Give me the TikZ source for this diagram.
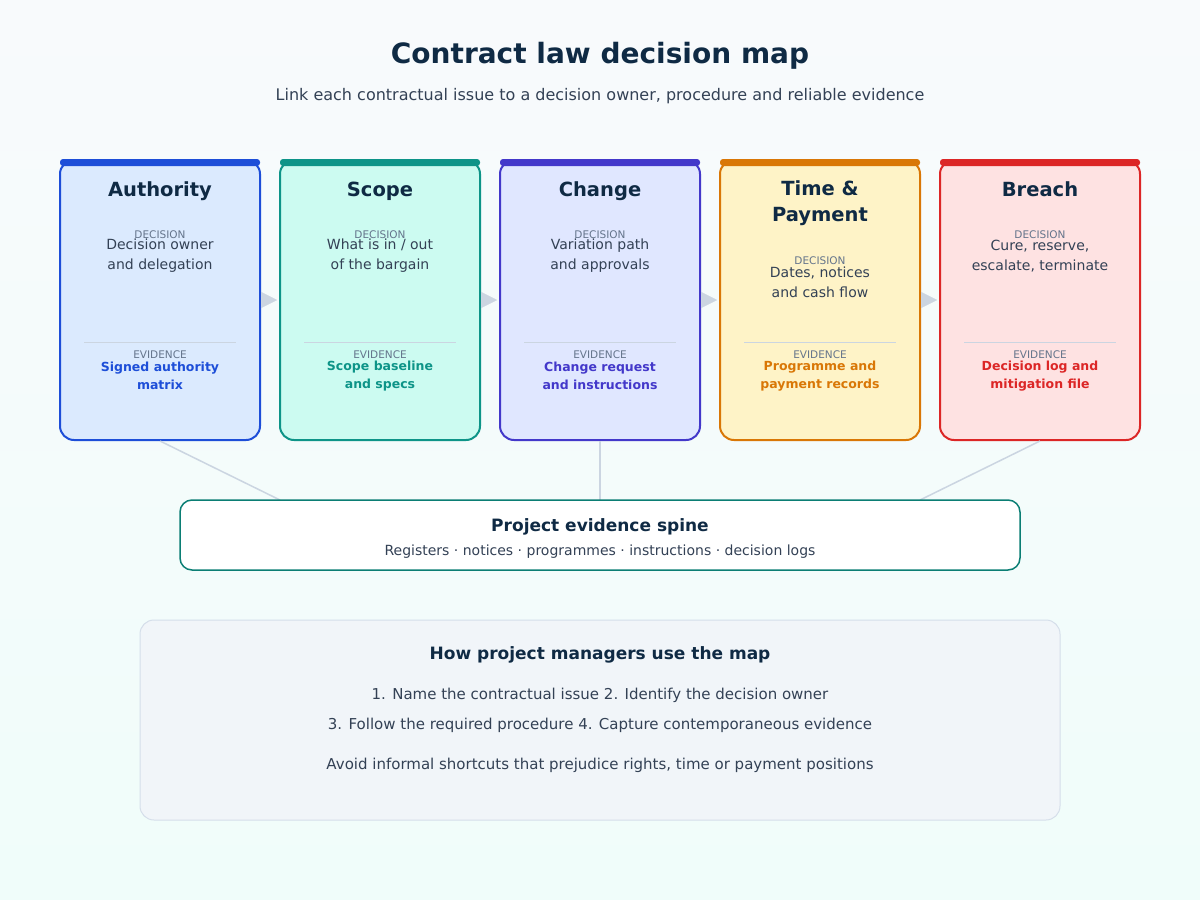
\documentclass[tikz,border=0pt]{standalone}
\usepackage{fontspec}
\setmainfont{DejaVu Sans}
\usetikzlibrary{positioning,arrows.meta}

\definecolor{ink}{HTML}{0F2A44}
\definecolor{body}{HTML}{334155}
\definecolor{mute}{HTML}{64748B}
\definecolor{rule}{HTML}{CBD5E1}
\definecolor{blueline}{HTML}{1D4ED8}
\definecolor{bluefill}{HTML}{DBEAFE}
\definecolor{tealline}{HTML}{0D9488}
\definecolor{tealfill}{HTML}{CCFBF1}
\definecolor{indline}{HTML}{4338CA}
\definecolor{indfill}{HTML}{E0E7FF}
\definecolor{ambline}{HTML}{D97706}
\definecolor{ambfill}{HTML}{FEF3C7}
\definecolor{redline}{HTML}{DC2626}
\definecolor{redfill}{HTML}{FEE2E2}
\definecolor{notefill}{HTML}{F1F5F9}
\definecolor{noteline}{HTML}{D5DEEA}
\definecolor{topbg}{HTML}{F8FAFC}
\definecolor{botbg}{HTML}{F0FDFA}

\begin{document}
\begin{tikzpicture}[x=1pt, y=-1pt, node distance={220pt},
    card/.style = {draw, rounded corners=14pt, line width=2pt, minimum width=200pt, minimum height=280pt},
    ttl/.style = {font=\bfseries\fontsize{19.5}{26}\selectfont, text=ink, align=center},
    tag/.style = {font=\fontsize{10.5}{12}\selectfont, text=mute},
    dec/.style = {font=\fontsize{14}{20}\selectfont, text=body, align=center},
    evi/.style = {font=\bfseries\fontsize{12.5}{18}\selectfont, align=center},
    flow/.style = {rule, line width=0.2pt, -{Triangle[length=16pt,width=16pt]}, shorten <=2pt, shorten >=2pt},
    link/.style = {rule, line width=1.5pt}]
    \shade[top color=topbg, bottom color=botbg] (0,0) rectangle (1200,900);

    \node[font=\bfseries\fontsize{28}{32}\selectfont, text=ink] (title) at (600,56) {Contract law decision map};
    \node[font=\fontsize{16}{19}\selectfont, text=body] (sub) at (600,96) {Link each contractual issue to a decision owner, procedure and reliable evidence};

    % the five cards
    \node[card, draw=blueline, fill=bluefill] (1) at (160,300) {};
    \node[card, draw=tealline, fill=tealfill] (2) [right of=1] {};
    \node[card, draw=indline, fill=indfill] (3) [right of=2] {};
    \node[card, draw=ambline, fill=ambfill] (4) [right of=3] {};
    \node[card, draw=redline, fill=redfill] (5) [right of=4] {};
    \fill[blueline, rounded corners=3pt] (60,159) rectangle (260,166);
    \fill[tealline, rounded corners=3pt] (280,159) rectangle (480,166);
    \fill[indline, rounded corners=3pt] (500,159) rectangle (700,166);
    \fill[ambline, rounded corners=3pt] (720,159) rectangle (920,166);
    \fill[redline, rounded corners=3pt] (940,159) rectangle (1140,166);

    \draw[flow] (1) -- (2);
    \draw[flow] (2) -- (3);
    \draw[flow] (3) -- (4);
    \draw[flow] (4) -- (5);

    \node[ttl, anchor=base] (1t) at (160,196) {Authority};
    \node[tag] (1d) at (160,235) {DECISION};
    \node[dec] (1b) at (160,256) {Decision owner\\and delegation};
    \draw[rule, line width=1pt] (84,342) -- (236,342);
    \node[tag] (1e) at (160,355) {EVIDENCE};
    \node[evi, text=blueline] (1v) at (160,376) {Signed authority\\matrix};

    \node[ttl, anchor=base] (2t) at (380,196) {Scope};
    \node[tag] (2d) at (380,235) {DECISION};
    \node[dec] (2b) at (380,256) {What is in / out\\of the bargain};
    \draw[rule, line width=1pt] (304,342) -- (456,342);
    \node[tag] (2e) at (380,355) {EVIDENCE};
    \node[evi, text=tealline] (2v) at (380,376) {Scope baseline\\and specs};

    \node[ttl, anchor=base] (3t) at (600,196) {Change};
    \node[tag] (3d) at (600,235) {DECISION};
    \node[dec] (3b) at (600,256) {Variation path\\and approvals};
    \draw[rule, line width=1pt] (524,342) -- (676,342);
    \node[tag] (3e) at (600,355) {EVIDENCE};
    \node[evi, text=indline] (3v) at (600,376) {Change request\\and instructions};

    \node[ttl] (4t) at (820,203) {Time \&\\Payment};
    \node[tag] (4d) at (820,261) {DECISION};
    \node[dec] (4b) at (820,282) {Dates, notices\\and cash flow};
    \draw[rule, line width=1pt] (744,342) -- (896,342);
    \node[tag] (4e) at (820,355) {EVIDENCE};
    \node[evi, text=ambline] (4v) at (820,376) {Programme and\\payment records};

    \node[ttl, anchor=base] (5t) at (1040,196) {Breach};
    \node[tag] (5d) at (1040,235) {DECISION};
    \node[dec] (5b) at (1040,256) {Cure, reserve,\\escalate, terminate};
    \draw[rule, line width=1pt] (964,342) -- (1116,342);
    \node[tag] (5e) at (1040,355) {EVIDENCE};
    \node[evi, text=redline] (5v) at (1040,376) {Decision log and\\mitigation file};

    % evidence spine
    \coordinate (sl) at (280,500);
    \coordinate (sr) at (920,500);
    \draw[link] (1.south) -- (sl);
    \draw[link] (3.south) -- (600,500);
    \draw[link] (5.south) -- (sr);
    \node[draw=tealline!85!black, fill=white, line width=1.5pt, rounded corners=12pt, minimum width=840pt, minimum height=70pt] (sp) at (600,535) {};
    \node[font=\bfseries\fontsize{17}{20}\selectfont, text=ink] (spt) at (600,527) {Project evidence spine};
    \node[font=\fontsize{14}{16}\selectfont, text=body] (sps) at (600,552) {Registers · notices · programmes · instructions · decision logs};

    % how to use
    \node[draw=noteline, fill=notefill, line width=1pt, rounded corners=14pt, minimum width=920pt, minimum height=200pt] (nb) at (600,720) {};
    \node[font=\bfseries\fontsize{17}{20}\selectfont, text=ink] (nt) at (600,655) {How project managers use the map};
    \node[font=\fontsize{15}{18}\selectfont, text=body] (n1) at (600,695) {1. Name the contractual issue 2. Identify the decision owner};
    \node[font=\fontsize{15}{18}\selectfont, text=body] (n2) at (600,725) {3. Follow the required procedure 4. Capture contemporaneous evidence};
    \node[font=\fontsize{15}{18}\selectfont, text=body] (n3) at (600,765) {Avoid informal shortcuts that prejudice rights, time or payment positions};
\end{tikzpicture}
\end{document}
